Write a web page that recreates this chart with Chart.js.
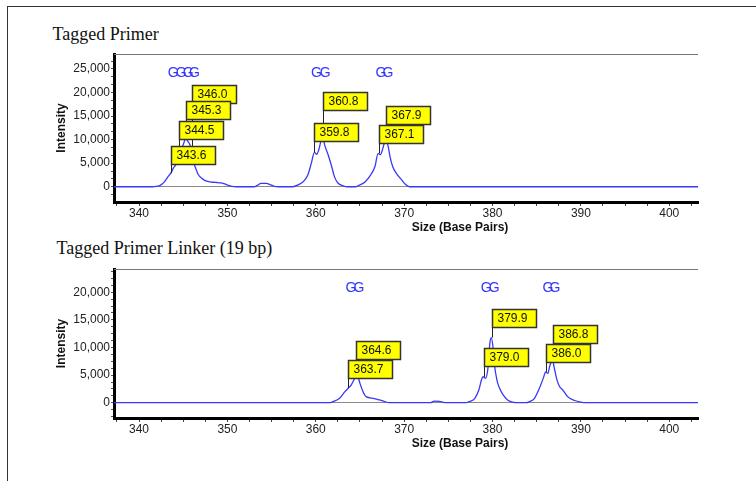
<!DOCTYPE html>
<html>
<head>
<meta charset="utf-8">
<title>Tagged Primer</title>
<script src="https://cdn.jsdelivr.net/npm/chart.js@4.4.1/dist/chart.umd.min.js"></script>
<style>
  body { margin: 0; background: #fff; width: 756px; height: 481px; overflow: hidden; position: relative; }
  .frame { position: absolute; left: 7px; top: 6px; width: 760px; height: 480px; border-top: 1.5px solid #333; border-left: 1.5px solid #333; }
  .panel-title { position: absolute; font: 18px/18px "Liberation Serif", "Times New Roman", serif; color: #111; white-space: nowrap; }
  canvas { position: absolute; left: 0; }
</style>
</head>
<body>
<div class="frame"></div>
<div class="panel-title" style="left:52.5px; top:25px">Tagged Primer</div>
<div class="panel-title" style="left:56.5px; top:239px">Tagged Primer Linker (19 bp)</div>
<canvas id="chart-top" width="756" height="240" style="top:0"></canvas>
<canvas id="chart-bottom" width="756" height="241" style="top:240px"></canvas>
<script>
// size axis, shared by both panels
const xRange = [337.17, 403.25];
const xTickLabels = [340, 350, 360, 370, 380, 390, 400];

// Tagged Primer
const size1 = [
  337.0, 341.5, 342.0, 342.4, 342.9, 343.3, 343.6, 343.9, 344.2, 344.5,
  344.8, 345.05, 345.3, 345.5, 345.8, 346.0, 346.2, 346.4, 346.7, 347.1,
  347.5, 347.9, 348.4, 348.8, 349.3, 349.7, 350.1, 350.5, 351.0, 353.0,
  353.4, 353.8, 354.4, 354.9, 355.3, 355.8, 357.4, 358.0, 358.6, 359.1,
  359.5, 359.85, 360.1, 360.35, 360.6, 360.8, 361.0, 361.4, 361.8, 362.1,
  362.5, 363.1, 363.6, 364.5, 365.0, 365.5, 366.1, 366.7, 367.05, 367.3,
  367.6, 367.9, 368.2, 368.4, 368.7, 369.1, 369.7, 370.2, 370.6, 403.5
];
const intensity1 = [
  0, 0, 100, 300, 1100, 2200, 2900, 4000, 4800, 6300,
  7900, 9200, 10300, 9700, 8700, 6800, 5100, 4000, 2600, 1800,
  1300, 1100, 950, 900, 800, 600, 300, 100, 0, 0,
  300, 700, 700, 400, 100, 0, 0, 400, 1100, 2500,
  5000, 7300, 6900, 7900, 9800, 10500, 8900, 6800, 4300, 2200,
  800, 200, 0, 0, 400, 900, 2200, 4300, 7100, 6800,
  8200, 10000, 8500, 6400, 4300, 2900, 1500, 400, 0, 0
];
const peaks1 = [343.6, 344.5, 345.3, 346.0, 359.8, 360.8, 367.1, 367.9];
const peakHeight1 = [2900, 6300, 10300, 6800, 7300, 10500, 7100, 10000];
const labelBase1 = [4900, 10200, 14300, 17700, 9700, 16200, 9200, 13300];
const yTickLabels1 = [0, 5000, 10000, 15000, 20000, 25000];

// Tagged Primer Linker (19 bp)
const size2 = [
  337.0, 361.5, 361.95, 362.7, 363.3, 363.65, 364.0, 364.4, 364.6, 364.8,
  365.0, 365.35, 365.7, 366.5, 367.2, 367.8, 368.3, 373.0, 373.4, 374.0,
  374.6, 377.0, 377.4, 378.0, 378.45, 378.8, 379.0, 379.2, 379.5, 379.7,
  379.85, 380.05, 380.2, 380.5, 380.8, 381.2, 381.7, 382.3, 382.8, 383.8,
  384.2, 384.75, 385.3, 385.8, 386.0, 386.25, 386.5, 386.8, 387.0, 387.3,
  387.6, 387.95, 388.5, 389.3, 390.0, 390.5, 403.5
];
const intensity2 = [
  0, 0, 200, 800, 2000, 2600, 3200, 4400, 5000, 4600,
  3500, 2000, 1100, 800, 500, 200, 0, 0, 300, 250,
  0, 0, 200, 800, 2300, 4400, 4700, 4400, 6500, 10800,
  11800, 10100, 7100, 4100, 2600, 1400, 500, 100, 0, 0,
  200, 800, 2600, 4700, 5600, 5300, 6800, 7600, 6200, 4100,
  2900, 2300, 1100, 400, 100, 0, 0
];
const peaks2 = [363.7, 364.6, 379.0, 379.9, 386.0, 386.8];
const peakHeight2 = [2600, 5000, 4700, 11800, 5600, 7600];
const labelBase2 = [4500, 8000, 6700, 13800, 7300, 10800];
const yTickLabels2 = [0, 5000, 10000, 15000, 20000];

const SANS = '"Liberation Sans", Arial, sans-serif';
const TRACE_BLUE = '#3838f8';

Chart.defaults.font.family = SANS;

function withCommas(v) {
  return String(v).replace(/\B(?=(\d{3})+(?!\d))/g, ',');
}

// minor tick marks at a fixed step, labels are picked in the callbacks
function stepTicks(scale, step) {
  const ticks = [];
  const first = Math.ceil(scale.min / step - 1e-9);
  for (let i = first; i * step <= scale.max + 1e-9; i++) ticks.push({ value: i * step });
  scale.ticks = ticks;
}

function peakLabels(peaks, heights, bases) {
  return {
    id: 'peakLabels',
    afterDatasetsDraw(chart) {
      const { ctx, chartArea: area, scales: { x, y } } = chart;
      ctx.save();

      ctx.strokeStyle = '#777';
      ctx.lineWidth = 1;
      ctx.beginPath();
      ctx.moveTo(area.left, area.top + 0.5);
      ctx.lineTo(area.right, area.top + 0.5);
      ctx.stroke();

      // base calls above the peaks
      ctx.fillStyle = '#3333ff';
      ctx.font = '14px ' + SANS;
      ctx.textAlign = 'left';
      ctx.textBaseline = 'middle';
      peaks.forEach(p => ctx.fillText('G', x.getPixelForValue(p) - 3, area.top + 19));

      // size boxes: upper ones first so the lower boxes sit on top
      const order = peaks.map((p, i) => i).sort((a, b) => bases[b] - bases[a]);
      ctx.font = '12px ' + SANS;
      order.forEach(i => {
        const px = Math.round(x.getPixelForValue(peaks[i])) + 0.5;
        const yb = Math.round(y.getPixelForValue(bases[i])) + 0.5;
        ctx.strokeStyle = '#222';
        ctx.lineWidth = 1;
        ctx.beginPath();
        ctx.moveTo(px, yb);
        ctx.lineTo(px, y.getPixelForValue(heights[i]));
        ctx.stroke();

        ctx.fillStyle = '#ffff00';
        ctx.fillRect(px, yb - 18, 44, 18);
        ctx.strokeStyle = '#333';
        ctx.lineWidth = 1.5;
        ctx.strokeRect(px, yb - 18, 44, 18);
        ctx.fillStyle = '#111';
        ctx.fillText(peaks[i].toFixed(1), px + 5, yb - 9);
      });

      ctx.font = 'bold 12px ' + SANS;
      ctx.fillStyle = '#111';
      ctx.textAlign = 'center';
      ctx.fillText('Size (Base Pairs)', area.left + 346, area.bottom + 26);
      ctx.restore();
    }
  };
}

function makeChart(id, sizes, values, yMin, yMax, yStep, yLabels, pad, peaks, heights, bases) {
  return new Chart(document.getElementById(id), {
    type: 'scatter',
    data: {
      datasets: [{
        data: sizes.map((s, i) => ({ x: s, y: values[i] })),
        showLine: true,
        borderColor: TRACE_BLUE,
        borderWidth: 1.3,
        pointRadius: 0,
        cubicInterpolationMode: 'monotone'
      }]
    },
    options: {
      responsive: false,
      animation: false,
      events: [],
      layout: { padding: { left: 50, right: 58, top: pad.top, bottom: pad.bottom } },
      plugins: { legend: { display: false }, tooltip: { enabled: false } },
      scales: {
        x: {
          type: 'linear',
          min: xRange[0],
          max: xRange[1],
          afterFit: s => { s.height = 38; },
          afterBuildTicks: s => stepTicks(s, 2.5),
          grid: { drawOnChartArea: false, tickLength: 4, color: '#444' },
          border: { color: '#000', width: 3 },
          ticks: {
            autoSkip: false,
            maxRotation: 0,
            padding: 0,
            color: '#222',
            font: { size: 12 },
            callback: v => {
              const hit = xTickLabels.find(l => Math.abs(l - v) < 1e-6);
              return hit === undefined ? '' : String(hit);
            }
          }
        },
        y: {
          type: 'linear',
          min: yMin,
          max: yMax,
          afterFit: s => { s.width = 64; },
          afterBuildTicks: s => stepTicks(s, yStep),
          grid: {
            color: c => Math.abs(c.tick.value) < 1 ? '#8a8a8a' : 'rgba(0,0,0,0)',
            tickColor: '#555',
            tickLength: 3
          },
          border: { color: '#000', width: 3 },
          ticks: {
            autoSkip: false,
            padding: 1,
            color: '#222',
            font: { size: 12 },
            callback: v => {
              const hit = yLabels.find(l => Math.abs(l - v) < 1);
              return hit === undefined ? '' : withCommas(hit);
            }
          },
          title: {
            display: true,
            text: 'Intensity',
            color: '#111',
            font: { size: 12, weight: 'bold' },
            padding: { top: 4, bottom: 0 }
          }
        }
      }
    },
    plugins: [peakLabels(peaks, heights, bases)]
  });
}

makeChart('chart-top', size1, intensity1, -3240, 28180, 5000 / 3, yTickLabels1,
  { top: 54, bottom: 0 }, peaks1, peakHeight1, labelBase1);
makeChart('chart-bottom', size2, intensity2, -2770, 24220, 1250, yTickLabels2,
  { top: 29, bottom: 25 }, peaks2, peakHeight2, labelBase2);
</script>
</body>
</html>
